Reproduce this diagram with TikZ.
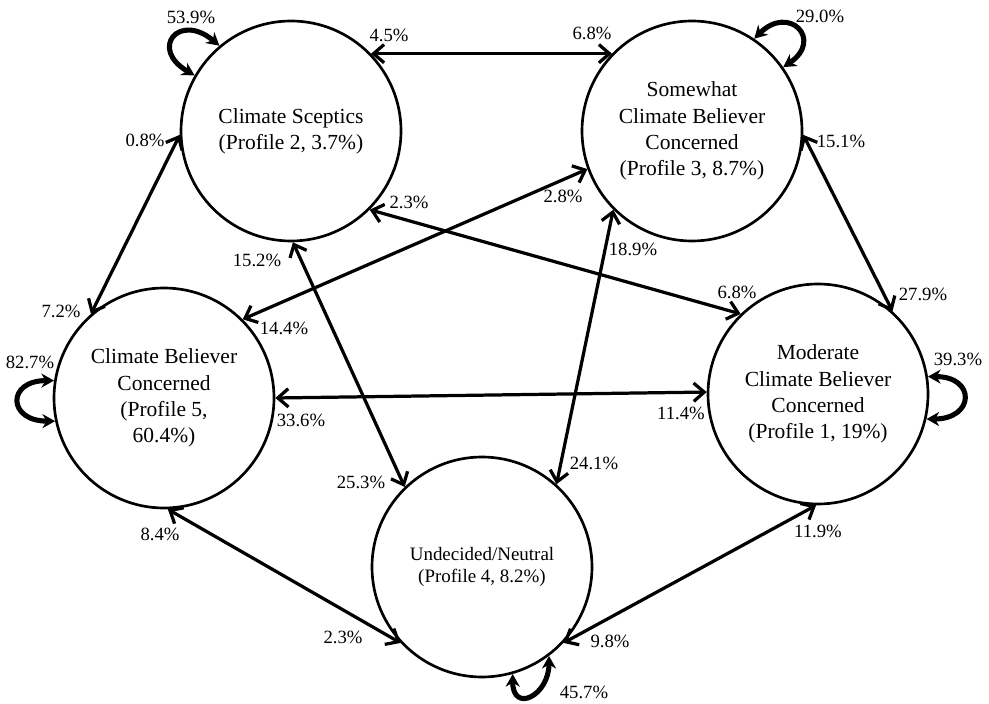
\documentclass[tikz,border=0pt]{standalone}
\usepackage{fontspec}
\setmainfont{Liberation Serif}
\usetikzlibrary{arrows.meta}

\begin{document}
\begin{tikzpicture}
    [x=0.25mm,y=0.25mm,
     profile/.style={shape=circle,draw=black,line width=1.9pt,minimum size=55mm,inner sep=0pt,align=center,font=\fontsize{15.3}{18.7}\selectfont},
     move/.style={{Straight Barb[length=7.5pt,width=13pt]}-{Straight Barb[length=7.5pt,width=13pt]},line width=2.3pt},
     stay/.style={{Stealth[length=9pt,width=10pt]}-{Stealth[length=9pt,width=10pt]},line width=3.6pt},
     share/.style={font=\fontsize{13.3}{16}\selectfont,inner sep=0pt}]
    \useasboundingbox (0,0) rectangle (989,703);
    % the five profiles
    \node [profile] (sc) at (291,572) {Climate Sceptics\\(Profile 2, 3.7\%)};
    \node [profile] (sw) at (692,572) {Somewhat\\Climate Believer\\Concerned\\(Profile 3, 8.7\%)};
    \node [profile] (bc) at (164,305) {Climate Believer\\Concerned\\(Profile 5,\\60.4\%)};
    \node [profile] (md) at (818,309) {Moderate\\Climate Believer\\Concerned\\(Profile 1, 19\%)};
    \node [profile,font=\fontsize{13.5}{15.6}\selectfont] (ud) at (482,136) {Undecided/Neutral\\(Profile 4, 8.2\%)};
    % transitions between profiles
    \draw [move] (sc.44) -- (sw.136);
    \draw [move] (sc.182) -- (bc.131);
    \draw [move] (sw.-2) -- (md.48);
    \draw [move] (sc.-45) -- (md.134);
    \draw [move] (sw.200) -- (bc.45);
    \draw [move] (sw.225) -- (ud.48);
    \draw [move] (sc.-89) -- (ud.134);
    \draw [move] (bc.0) -- (md.179);
    \draw [move] (bc.-88) -- (ud.223);
    \draw [move] (ud.-43) -- (md.-91);
    % staying in the same profile
    \draw [stay] (sc.150) to[out=150,in=140,looseness=3.5] (sc.130);
    \draw [stay] (sw.56) to[out=45,in=34,looseness=3.1] (sw.35);
    \draw [stay] (bc.171) to[out=180,in=180,looseness=3.0] (bc.192);
    \draw [stay] (md.9) to[out=0,in=0,looseness=2.9] (md.-13);
    \draw [stay] (ud.-74) to[out=-90,in=-90,looseness=2.5] (ud.-53);
    % shares
    \node [share] (scsw) at (389,668) {4.5\%};
    \node [share] (swsc) at (592,670) {6.8\%};
    \node [share] (scbc) at (145,563) {0.8\%};
    \node [share] (bcsc) at (61,392) {7.2\%};
    \node [share] (swmd) at (841,562) {15.1\%};
    \node [share] (mdsw) at (923,409) {27.9\%};
    \node [share] (scmd) at (409,501) {2.3\%};
    \node [share] (mdsc) at (737,411) {6.8\%};
    \node [share] (swbc) at (563,507) {2.8\%};
    \node [share] (bcsw) at (284,375) {14.4\%};
    \node [share] (swud) at (633,454) {18.9\%};
    \node [share] (udsw) at (594,240) {24.1\%};
    \node [share] (scud) at (257,443) {15.2\%};
    \node [share] (udsc) at (361,221) {25.3\%};
    \node [share] (bcmd) at (301,283) {33.6\%};
    \node [share] (mdbc) at (681,290) {11.4\%};
    \node [share] (bcud) at (160,169) {8.4\%};
    \node [share] (udbc) at (343,66) {2.3\%};
    \node [share] (udmd) at (610,62) {9.8\%};
    \node [share] (mdud) at (818,172) {11.9\%};
    \node [share] (scsc) at (191,686) {53.9\%};
    \node [share] (swsw) at (820,687) {29.0\%};
    \node [share] (bcbc) at (30,341) {82.7\%};
    \node [share] (mdmd) at (958,344) {39.3\%};
    \node [share] (udud) at (584,11) {45.7\%};
  \end{tikzpicture}
\end{document}
